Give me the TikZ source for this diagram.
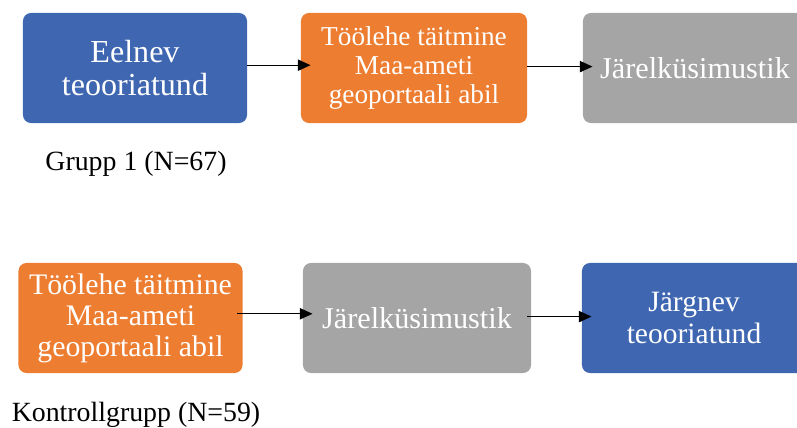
\documentclass[tikz,border=0pt]{standalone}
\usepackage{fontspec}
\setmainfont{Liberation Serif}
\usetikzlibrary{arrows.meta}
\definecolor{stepblue}{HTML}{3F66B1}
\definecolor{steporange}{HTML}{ED7D31}
\definecolor{stepgray}{HTML}{A5A5A5}

\begin{document}
\begin{tikzpicture}[x=0.025cm,y=-0.025cm,
        box/.style={rounded corners=0.2cm,minimum width=5.6cm,minimum height=2.75cm,
            text=white,align=center,inner sep=0pt},
        flow/.style={-{Triangle[length=9pt,width=8pt]},line width=0.9pt}]
    \useasboundingbox (0,0) rectangle (797,428);

    % Grupp 1
    \node[box,fill=stepblue,font=\fontsize{22.8}{23.5}\selectfont] (eel) at (135,68) {Eelnev\\teooriatund};
    \node[box,fill=steporange,minimum width=5.65cm,font=\fontsize{19.4}{20.6}\selectfont] (too1) at (414,68) {Töölehe täitmine\\Maa-ameti\\geoportaali abil};
    \node[box,fill=stepgray,font=\fontsize{21.5}{22}\selectfont] (jar1) at (695,68) {Järelküsimustik};
    \node[anchor=base,font=\fontsize{19.8}{22}\selectfont] (grp1) at (136,170) {Grupp 1 (N=67)};

    \draw[flow,shorten >=-7pt] ([yshift=2pt]eel.east) -- ([yshift=2pt]too1.west);
    \draw[flow,shorten >=-7pt] ([yshift=1pt]too1.east) -- ([yshift=1pt]jar1.west);

    % Kontrollgrupp
    \node[box,fill=steporange,font=\fontsize{21.2}{22}\selectfont] (too2) at (130.5,318) {Töölehe täitmine\\Maa-ameti\\geoportaali abil};
    \node[box,fill=stepgray,minimum width=5.7cm,font=\fontsize{21.5}{22}\selectfont] (jar2) at (417,318) {Järelküsimustik};
    \node[box,fill=stepblue,font=\fontsize{21}{22.8}\selectfont] (jarg) at (694,318) {Järgnev\\teooriatund};
    \node[anchor=base,font=\fontsize{19.8}{22}\selectfont] (grp2) at (136,421) {Kontrollgrupp (N=59)};

    \draw[flow,shorten <=-4pt,shorten >=-7pt] ([yshift=3pt]too2.east) -- ([yshift=3pt]jar2.west);
    \draw[flow,shorten <=-3pt,shorten >=-7pt] ([yshift=1pt]jar2.east) -- ([yshift=1pt]jarg.west);
\end{tikzpicture}
\end{document}
